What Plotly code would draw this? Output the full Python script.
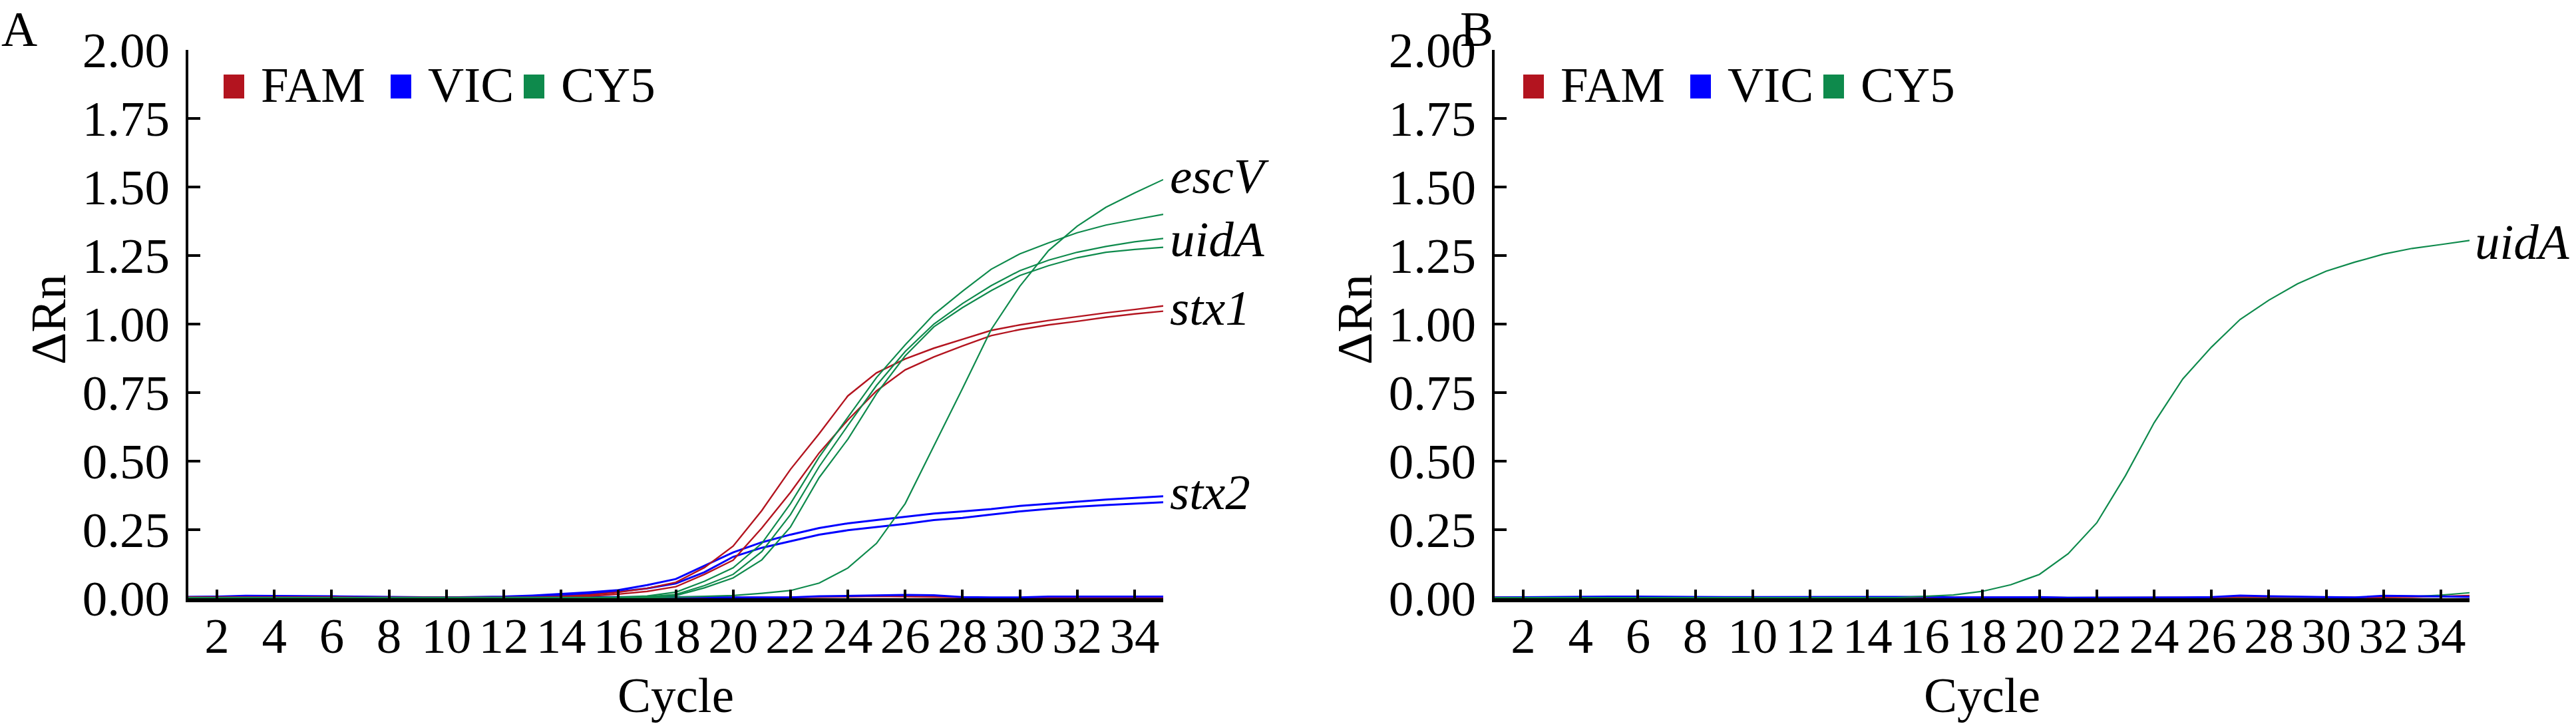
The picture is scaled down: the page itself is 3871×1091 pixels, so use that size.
import plotly.graph_objects as go

# qPCR amplification curves, panel A (multiplex positive) and panel B (uidA only)
cycles = list(range(1, 36))

# panel A - FAM (stx1) duplicates
a_fam_1 = [0.004, 0.004, 0.005, 0.005, 0.004, 0.004, 0.003, 0.003, 0.002, 0.002, 0.002, 0.003,
           0.004, 0.006, 0.012, 0.022, 0.036, 0.058, 0.112, 0.19, 0.32, 0.47, 0.60, 0.738,
           0.822, 0.873, 0.912, 0.944, 0.977, 0.997, 1.013, 1.027, 1.041, 1.053, 1.066]
a_fam_2 = [0.003, 0.003, 0.004, 0.004, 0.003, 0.003, 0.002, 0.002, 0.002, 0.001, 0.001, 0.002,
           0.002, 0.004, 0.008, 0.015, 0.025, 0.042, 0.087, 0.139, 0.256, 0.386, 0.53, 0.65,
           0.756, 0.833, 0.88, 0.92, 0.958, 0.98, 0.997, 1.01, 1.025, 1.037, 1.047]
# panel A - VIC (stx2) duplicates
a_vic_1 = [0.004, 0.005, 0.007, 0.007, 0.006, 0.005, 0.004, 0.004, 0.003, 0.003, 0.004, 0.006,
           0.010, 0.016, 0.022, 0.030, 0.048, 0.070, 0.119, 0.167, 0.204, 0.232, 0.256, 0.273,
           0.285, 0.297, 0.309, 0.317, 0.325, 0.337, 0.345, 0.353, 0.360, 0.366, 0.372]
a_vic_2 = [0.003, 0.003, 0.004, 0.004, 0.004, 0.003, 0.003, 0.002, 0.002, 0.002, 0.002, 0.003,
           0.006, 0.010, 0.016, 0.024, 0.036, 0.054, 0.095, 0.151, 0.184, 0.208, 0.232, 0.248,
           0.259, 0.271, 0.285, 0.293, 0.305, 0.317, 0.326, 0.334, 0.340, 0.345, 0.350]
# panel A - CY5 (uidA / escV)
a_cy5_1 = [0.002, 0.002, 0.002, 0.002, 0.002, 0.002, 0.002, 0.002, 0.002, 0.002, 0.002, 0.002,
           0.002, 0.002, 0.003, 0.004, 0.008, 0.022, 0.062, 0.111, 0.20, 0.345, 0.515, 0.66,
           0.805, 0.924, 1.035, 1.12, 1.20, 1.256, 1.296, 1.333, 1.361, 1.381, 1.400]
a_cy5_2 = [0.001, 0.001, 0.001, 0.001, 0.001, 0.001, 0.001, 0.001, 0.001, 0.001, 0.001, 0.001,
           0.001, 0.001, 0.002, 0.003, 0.005, 0.014, 0.046, 0.087, 0.17, 0.305, 0.48, 0.63,
           0.776, 0.90, 1.00, 1.075, 1.14, 1.195, 1.233, 1.262, 1.283, 1.30, 1.312]
a_cy5_3 = [0.001, 0.001, 0.001, 0.001, 0.001, 0.001, 0.001, 0.001, 0.001, 0.001, 0.001, 0.001,
           0.001, 0.001, 0.001, 0.002, 0.004, 0.010, 0.038, 0.074, 0.14, 0.26, 0.44, 0.58,
           0.746, 0.884, 0.99, 1.06, 1.122, 1.177, 1.213, 1.242, 1.262, 1.272, 1.28]
a_cy5_late = [0.001, 0.001, 0.001, 0.001, 0.001, 0.001, 0.001, 0.001, 0.001, 0.001, 0.001, 0.001,
              0.001, 0.001, 0.001, 0.002, 0.002, 0.004, 0.007, 0.010, 0.018, 0.028, 0.055, 0.11,
              0.20, 0.345, 0.555, 0.765, 0.98, 1.138, 1.268, 1.357, 1.426, 1.478, 1.527]
# panel A - negative wells (flat baselines)
a_fam_neg = [0.004, 0.004, 0.005, 0.006, 0.005, 0.004, 0.004, 0.004, 0.003, 0.002, 0.002, 0.002,
             0.002, 0.002, 0.003, 0.003, 0.003, 0.002, 0.002, 0.002, 0.002, 0.003, 0.004, 0.006,
             0.007, 0.006, 0.004, 0.003, 0.002, 0.002, 0.003, 0.003, 0.003, 0.003, 0.003]
a_vic_neg = [0.005, 0.006, 0.009, 0.009, 0.008, 0.007, 0.006, 0.005, 0.003, 0.002, 0.002, 0.003,
             0.004, 0.004, 0.004, 0.004, 0.005, 0.005, 0.004, 0.003, 0.003, 0.003, 0.007, 0.009,
             0.010, 0.012, 0.011, 0.004, 0.003, 0.003, 0.006, 0.006, 0.006, 0.007, 0.006]

# panel B
b_cy5 = [0.002, 0.002, 0.002, 0.002, 0.002, 0.002, 0.002, 0.002, 0.002, 0.002, 0.002, 0.002,
         0.002, 0.002, 0.002, 0.007, 0.012, 0.025, 0.049, 0.087, 0.162, 0.275, 0.447, 0.64,
         0.80, 0.916, 1.017, 1.087, 1.147, 1.193, 1.226, 1.255, 1.276, 1.29, 1.305]
b_fam_neg = [0.004, 0.004, 0.005, 0.005, 0.004, 0.004, 0.004, 0.003, 0.003, 0.004, 0.003, 0.003,
             0.003, 0.003, 0.003, 0.004, 0.004, 0.004, 0.003, 0.003, 0.002, 0.002, 0.002, 0.003,
             0.003, 0.003, 0.004, 0.004, 0.005, 0.004, 0.003, 0.003, 0.004, 0.007, 0.010]
b_vic_neg = [0.003, 0.004, 0.005, 0.006, 0.006, 0.006, 0.005, 0.004, 0.004, 0.004, 0.004, 0.004,
             0.004, 0.004, 0.005, 0.005, 0.003, 0.003, 0.003, 0.004, 0.002, 0.002, 0.002, 0.003,
             0.003, 0.004, 0.010, 0.007, 0.005, 0.004, 0.003, 0.009, 0.008, 0.006, 0.005]
b_cy5_neg = [0.002, 0.002, 0.002, 0.002, 0.002, 0.002, 0.002, 0.002, 0.002, 0.002, 0.002, 0.002,
             0.002, 0.002, 0.002, 0.002, 0.002, 0.002, 0.002, 0.002, 0.002, 0.002, 0.002, 0.002,
             0.002, 0.002, 0.002, 0.002, 0.002, 0.003, 0.003, 0.004, 0.006, 0.011, 0.020]

# gene labels at the end of the curves
a_labels = ["escV", "uidA", "stx1", "stx2"]
a_label_y = [1.54, 1.31, 1.06, 0.386]
b_labels = ["uidA"]
b_label_y = [1.30]

channels = ["FAM", "VIC", "CY5"]
RED, BLUE, GREEN = "#B3141F", "#0000FF", "#0E8A4C"
ch_colors = [RED, BLUE, GREEN]

W, H = 3871, 1091
FONT = "Liberation Serif, Times New Roman, serif"


def fx(p):
    return p / W


def fy(p):
    return 1 - p / H


def add_line(y, color, width, xa, ya):
    fig.add_trace(go.Scatter(x=cycles, y=y, mode="lines", xaxis=xa, yaxis=ya,
                             line=dict(color=color, width=width), hoverinfo="skip",
                             showlegend=False))


fig = go.Figure()

# panel A
add_line(a_fam_neg, RED, 2.4, "x", "y")
add_line(a_vic_neg, BLUE, 3, "x", "y")
add_line(a_vic_1, BLUE, 3, "x", "y")
add_line(a_vic_2, BLUE, 3, "x", "y")
add_line(a_fam_1, RED, 2.4, "x", "y")
add_line(a_fam_2, RED, 2.4, "x", "y")
for s in [a_cy5_1, a_cy5_2, a_cy5_3, a_cy5_late]:
    add_line(s, GREEN, 2.2, "x", "y")

# panel B
add_line(b_cy5_neg, GREEN, 2.2, "x2", "y2")
add_line(b_fam_neg, RED, 2.4, "x2", "y2")
add_line(b_vic_neg, BLUE, 3, "x2", "y2")
add_line(b_cy5, GREEN, 2.2, "x2", "y2")

# axes: plot areas in pixels
panels = [("xaxis", "yaxis", 283, 1748, "A", 0), ("xaxis2", "yaxis2", 2246, 3711, "B", 2192)]
top_px, bottom_px = 75, 899

layout_axes = {}
annotations = []
shapes = []
for xa, ya, left, right, letter, letter_x in panels:
    layout_axes[xa] = dict(
        domain=[fx(left), fx(right)], range=[1, 35], tickvals=list(range(2, 35, 2)),
        showline=True, linecolor="black", linewidth=6, ticks="inside", ticklen=13,
        tickwidth=4, tickcolor="black", showgrid=False, zeroline=False, automargin=False,
        tickfont=dict(family=FONT, size=75, color="black"), ticklabelstandoff=-14,
        anchor="y" if xa == "xaxis" else "y2", fixedrange=True)
    layout_axes[ya] = dict(
        domain=[fy(bottom_px), fy(top_px)], range=[0, 2], tickvals=[0, 0.25, 0.5, 0.75, 1, 1.25, 1.5, 1.75, 2],
        tickformat=".2f", showline=True, linecolor="black", linewidth=4, ticks="inside",
        ticklen=18, tickwidth=4, tickcolor="black", showgrid=False, zeroline=False, automargin=False,
        tickfont=dict(family=FONT, size=75, color="black"), ticklabelstandoff=9,
        anchor="x" if ya == "yaxis" else "x2", fixedrange=True)

    # axis titles
    annotations.append(dict(text="Cycle", x=fx((left + right) / 2), y=fy(1044), xref="paper", yref="paper",
                            xanchor="center", yanchor="middle", showarrow=False,
                            font=dict(family=FONT, size=75, color="black")))
    annotations.append(dict(text="ΔRn", x=fx(left - 211), y=fy(480), xref="paper", yref="paper",
                            xanchor="center", yanchor="middle", showarrow=False, textangle=-90,
                            font=dict(family=FONT, size=75, color="black")))
    # panel letter
    annotations.append(dict(text=letter, x=fx(letter_x), y=1, xref="paper", yref="paper",
                            xanchor="left", yanchor="top", showarrow=False,
                            font=dict(family=FONT, size=75, color="black")))

    # channel key
    shift = 53 if letter == "A" else 43
    for i, (name, col) in enumerate(zip(channels, ch_colors)):
        sq_left = left + shift + [0, 251, 451][i]
        shapes.append(dict(type="rect", xref="paper", yref="paper",
                           x0=fx(sq_left), x1=fx(sq_left + 31), y0=fy(148), y1=fy(112),
                           fillcolor=col, line=dict(width=0)))
        annotations.append(dict(text=name, x=fx(sq_left + 54), y=fy(128), xref="paper", yref="paper",
                                xanchor="left", yanchor="middle", showarrow=False,
                                font=dict(family=FONT, size=75, color="black")))

# gene labels
for txt, yv in zip(a_labels, a_label_y):
    annotations.append(dict(text="<i>" + txt + "</i>", x=35, y=yv, xref="x", yref="y",
                            xanchor="left", yanchor="middle", xshift=8, showarrow=False,
                            font=dict(family=FONT, size=75, color="black")))
for txt, yv in zip(b_labels, b_label_y):
    annotations.append(dict(text="<i>" + txt + "</i>", x=35, y=yv, xref="x2", yref="y2",
                            xanchor="left", yanchor="middle", xshift=6, showarrow=False,
                            font=dict(family=FONT, size=75, color="black")))

fig.update_layout(
    template="none",
    width=W, height=H, autosize=False,
    margin=dict(l=0, r=0, t=0, b=0, pad=0, autoexpand=False),
    paper_bgcolor="white", plot_bgcolor="white",
    showlegend=False,
    font=dict(family=FONT, size=75, color="black"),
    annotations=annotations, shapes=shapes,
    **layout_axes
)

fig.write_html("out.html", config={"displayModeBar": False},
               post_script="document.body.style.margin='0px';")
